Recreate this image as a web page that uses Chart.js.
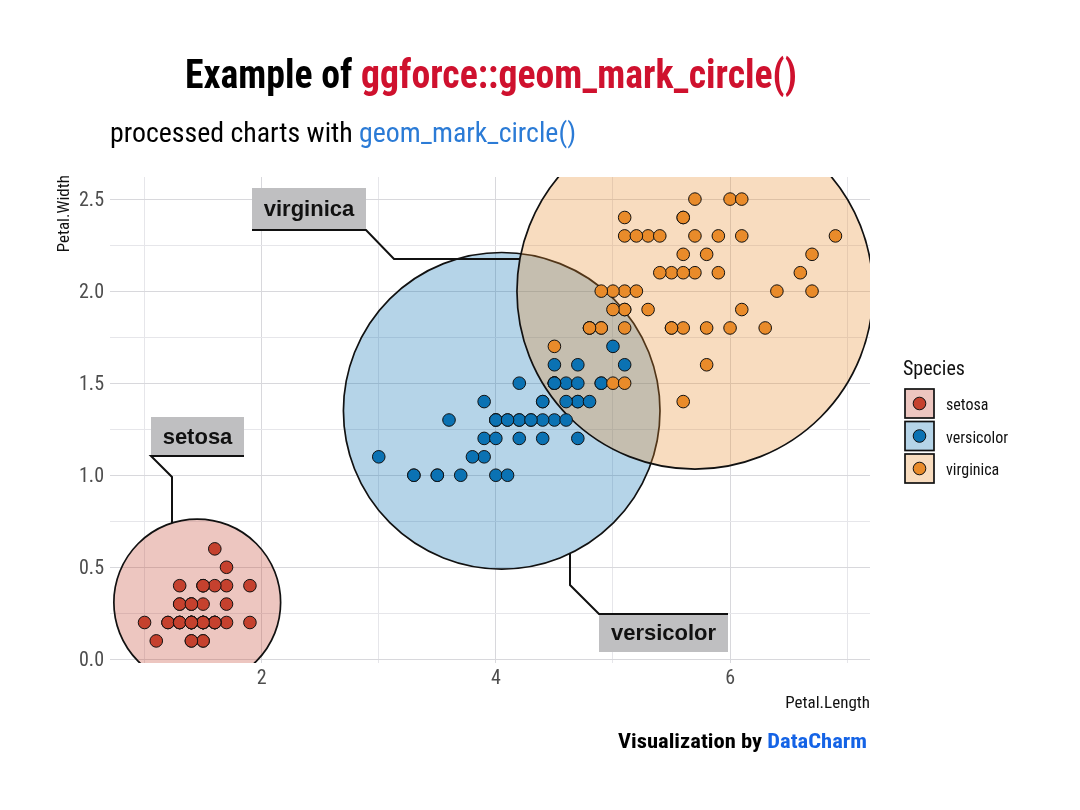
<!DOCTYPE html>
<html>
<head>
<meta charset="utf-8">
<script src="https://cdn.jsdelivr.net/npm/chart.js@4"></script>
<style>
  html, body { margin: 0; padding: 0; background: #fff; }
  #wrap { width: 1080px; height: 810px; }
</style>
</head>
<body>
<div id="wrap"><canvas id="chart" width="1080" height="810"></canvas></div>
<script>
// iris petal measurements (Petal.Length / Petal.Width), one pair per flower
const species = ['setosa', 'versicolor', 'virginica'];

const setosaLength = [1.4,1.4,1.3,1.5,1.4,1.7,1.4,1.5,1.4,1.5,1.5,1.6,1.4,1.1,1.2,1.5,1.3,1.4,1.7,1.5,1.7,1.5,1.0,1.7,1.9,1.6,1.6,1.5,1.4,1.6,1.6,1.5,1.5,1.4,1.5,1.2,1.3,1.4,1.3,1.5,1.3,1.3,1.3,1.6,1.9,1.4,1.6,1.4,1.5,1.4];
const setosaWidth = [0.2,0.2,0.2,0.2,0.2,0.4,0.3,0.2,0.2,0.1,0.2,0.2,0.1,0.1,0.2,0.4,0.4,0.3,0.3,0.3,0.2,0.4,0.2,0.5,0.2,0.2,0.4,0.2,0.2,0.2,0.2,0.4,0.1,0.2,0.2,0.2,0.2,0.1,0.2,0.2,0.3,0.3,0.2,0.6,0.4,0.3,0.2,0.2,0.2,0.2];

const versicolorLength = [4.7,4.5,4.9,4.0,4.6,4.5,4.7,3.3,4.6,3.9,3.5,4.2,4.0,4.7,3.6,4.4,4.5,4.1,4.5,3.9,4.8,4.0,4.9,4.7,4.3,4.4,4.8,5.0,4.5,3.5,3.8,3.7,3.9,5.1,4.5,4.5,4.7,4.4,4.1,4.0,4.4,4.6,4.0,3.3,4.2,4.2,4.2,4.3,3.0,4.1];
const versicolorWidth = [1.4,1.5,1.5,1.3,1.5,1.3,1.6,1.0,1.3,1.4,1.0,1.5,1.0,1.4,1.3,1.4,1.5,1.0,1.5,1.1,1.8,1.3,1.5,1.2,1.3,1.4,1.4,1.7,1.5,1.0,1.1,1.0,1.2,1.6,1.5,1.6,1.5,1.3,1.3,1.3,1.2,1.4,1.2,1.0,1.3,1.2,1.3,1.3,1.1,1.3];

const virginicaLength = [6.0,5.1,5.9,5.6,5.8,6.6,4.5,6.3,5.8,6.1,5.1,5.3,5.5,5.0,5.1,5.3,5.5,6.7,6.9,5.0,5.7,4.9,6.7,4.9,5.7,6.0,4.8,4.9,5.6,5.8,6.1,6.4,5.6,5.1,5.6,6.1,5.6,5.5,4.8,5.4,5.6,5.1,5.1,5.9,5.7,5.2,5.0,5.2,5.4,5.1];
const virginicaWidth = [2.5,1.9,2.1,1.8,2.2,2.1,1.7,1.8,1.8,2.5,2.0,1.9,2.1,2.0,2.4,2.3,1.8,2.2,2.3,1.5,2.3,2.0,2.0,1.8,2.1,1.8,1.8,1.8,2.1,1.6,1.9,2.0,2.2,1.5,1.4,2.3,2.4,1.8,1.8,2.1,2.4,2.3,1.9,2.3,2.5,2.3,1.9,2.0,2.3,1.8];

const xTicks = [1, 2, 3, 4, 5, 6, 7];
const yTicks = [0, 0.25, 0.5, 0.75, 1, 1.25, 1.5, 1.75, 2, 2.25, 2.5];

const lengths = [setosaLength, versicolorLength, virginicaLength];
const widths = [setosaWidth, versicolorWidth, virginicaWidth];

// colours
const pointColors = ['#c5412e', '#0b72b3', '#e98b2a'];
const markFills = ['rgba(197,65,46,0.3)', 'rgba(11,114,179,0.3)', 'rgba(233,139,42,0.3)'];
const FONT = '"Roboto Condensed", "Liberation Sans Narrow", Roboto, sans-serif';

// ggplot style 5% expansion of the data range
function expanded(arrs) {
    const all = [].concat(...arrs);
    const lo = Math.min(...all), hi = Math.max(...all);
    const pad = (hi - lo) * 0.05;
    return [lo - pad, hi + pad];
}
const [xMin, xMax] = expanded(lengths);
const [yMin, yMax] = expanded(widths);

// smallest circle around a set of pixel points
function circle2(a, b) {
    const x = (a.x + b.x) / 2, y = (a.y + b.y) / 2;
    return { x, y, r: Math.hypot(a.x - x, a.y - y) };
}
function circle3(a, b, c) {
    const d = 2 * (a.x * (b.y - c.y) + b.x * (c.y - a.y) + c.x * (a.y - b.y));
    if (Math.abs(d) < 1e-9) return circle2(a, c);
    const a2 = a.x * a.x + a.y * a.y, b2 = b.x * b.x + b.y * b.y, c2 = c.x * c.x + c.y * c.y;
    const x = (a2 * (b.y - c.y) + b2 * (c.y - a.y) + c2 * (a.y - b.y)) / d;
    const y = (a2 * (c.x - b.x) + b2 * (a.x - c.x) + c2 * (b.x - a.x)) / d;
    return { x, y, r: Math.hypot(a.x - x, a.y - y) };
}
const inside = (c, p) => Math.hypot(p.x - c.x, p.y - c.y) <= c.r + 1e-6;
function enclose(pts) {
    let c = null;
    for (let i = 0; i < pts.length; i++) {
        if (c && inside(c, pts[i])) continue;
        c = { x: pts[i].x, y: pts[i].y, r: 0 };
        for (let j = 0; j < i; j++) {
            if (inside(c, pts[j])) continue;
            c = circle2(pts[i], pts[j]);
            for (let k = 0; k < j; k++) {
                if (!inside(c, pts[k])) c = circle3(pts[i], pts[j], pts[k]);
            }
        }
    }
    return c;
}

const markExpand = 27; // px added around each enclosing circle

// label boxes, placed relative to their circle
// side: where the connector leaves the box
const labelSpecs = [
    { text: 'setosa', dx: -46, dy: -185, w: 93, h: 39, side: 'bottom-left' },
    { text: 'versicolor', dx: 97, dy: 203, w: 129, h: 38, side: 'top-left' },
    { text: 'virginica', dx: -443, dy: -103, w: 114, h: 42, side: 'bottom-right' }
];

const markCircles = {
    id: 'markCircles',
    beforeDatasetsDraw(chart) {
        const { ctx, chartArea, scales: { x, y } } = chart;
        chart.$circles = species.map((s, i) => {
            const pts = lengths[i].map((v, k) => ({ x: x.getPixelForValue(v), y: y.getPixelForValue(widths[i][k]) }));
            const c = enclose(pts);
            c.r += markExpand;
            return c;
        });
        ctx.save();
        ctx.beginPath();
        ctx.rect(chartArea.left, chartArea.top, chartArea.right - chartArea.left, chartArea.bottom - chartArea.top);
        ctx.clip();
        chart.$circles.forEach((c, i) => {
            ctx.beginPath();
            ctx.arc(c.x, c.y, c.r, 0, Math.PI * 2);
            ctx.fillStyle = markFills[i];
            ctx.fill();
            ctx.lineWidth = 1.7;
            ctx.strokeStyle = '#111';
            ctx.stroke();
        });
        ctx.restore();
    },
    afterDatasetsDraw(chart) {
        const ctx = chart.ctx;
        ctx.save();
        chart.$circles.forEach((c, i) => {
            const L = labelSpecs[i];
            const bx = Math.round(c.x + L.dx), by = Math.round(c.y + L.dy);
            ctx.fillStyle = '#bfbfc1';
            ctx.fillRect(bx, by, L.w, L.h);
            ctx.fillStyle = '#111';
            ctx.font = 'bold 22px "Liberation Sans", Arial, sans-serif';
            ctx.textAlign = 'center';
            ctx.textBaseline = 'middle';
            ctx.fillText(L.text, bx + L.w / 2, by + L.h / 2 + 1);

            // connector: edge of box, short diagonal, then straight to the circle
            let path;
            if (L.side === 'bottom-left') {
                const ex = bx + 21, ey = by + L.h + 21;
                const cy = c.y - Math.sqrt(c.r * c.r - (ex - c.x) * (ex - c.x));
                path = [[bx + L.w, by + L.h], [bx, by + L.h], [ex, ey], [ex, cy]];
            } else if (L.side === 'top-left') {
                const ex = bx - 29, ey = by - 29;
                const cy = c.y + Math.sqrt(c.r * c.r - (ex - c.x) * (ex - c.x));
                path = [[bx + L.w, by], [bx, by], [ex, ey], [ex, cy]];
            } else {
                const ex = bx + L.w + 28, ey = by + L.h + 29;
                const cx = c.x - Math.sqrt(c.r * c.r - (ey - c.y) * (ey - c.y));
                path = [[bx, by + L.h], [bx + L.w, by + L.h], [ex, ey], [cx, ey]];
            }
            ctx.beginPath();
            path.forEach((p, k) => k ? ctx.lineTo(p[0], p[1]) : ctx.moveTo(p[0], p[1]));
            ctx.lineWidth = 2;
            ctx.strokeStyle = '#111';
            ctx.stroke();
        });
        ctx.restore();
    }
};

// text made of coloured pieces, squeezed to a given width if asked
function richText(ctx, parts, x, y, font, align, fitWidth) {
    ctx.font = font;
    const ws = parts.map(p => ctx.measureText(p.t).width);
    const total = ws.reduce((a, b) => a + b, 0);
    const sx = fitWidth ? fitWidth / total : 1;
    const start = align === 'right' ? x - total * sx : align === 'center' ? x - total * sx / 2 : x;
    ctx.save();
    ctx.translate(start, y);
    ctx.scale(sx, 1);
    ctx.textAlign = 'left';
    ctx.textBaseline = 'alphabetic';
    let cx = 0;
    parts.forEach((p, i) => {
        ctx.fillStyle = p.c;
        ctx.fillText(p.t, cx, 0);
        cx += ws[i];
    });
    ctx.restore();
}

const decorations = {
    id: 'decorations',
    afterDraw(chart) {
        const ctx = chart.ctx;
        const area = chart.chartArea;
        richText(ctx, [{ t: 'Example of ', c: '#000' }, { t: 'ggforce::geom_mark_circle()', c: '#cf112e' }],
            185, 88, 'bold 40px ' + FONT, 'left', 612);
        richText(ctx, [{ t: 'processed charts with ', c: '#000' }, { t: 'geom_mark_circle()', c: '#2b7bd6' }],
            110, 142, '27px ' + FONT, 'left', 466);
        richText(ctx, [{ t: 'Visualization by ', c: '#000' }, { t: 'DataCharm', c: '#1463e6' }],
            867, 748, 'bold 21px ' + FONT, 'right', 249);

        // axis titles
        ctx.save();
        ctx.fillStyle = '#111';
        ctx.font = '17px ' + FONT;
        ctx.textAlign = 'right';
        ctx.textBaseline = 'alphabetic';
        ctx.fillText('Petal.Length', area.right, 708);
        ctx.translate(69, area.top - 2);
        ctx.rotate(-Math.PI / 2);
        ctx.fillText('Petal.Width', 0, 0);
        ctx.restore();

        // legend
        ctx.save();
        ctx.fillStyle = '#111';
        ctx.font = '20px ' + FONT;
        ctx.textAlign = 'left';
        ctx.textBaseline = 'alphabetic';
        ctx.fillText('Species', 903, 375);
        species.forEach((s, i) => {
            const top = 389 + i * 32.5;
            ctx.fillStyle = '#fff';
            ctx.fillRect(905, top, 29, 29);
            ctx.fillStyle = markFills[i];
            ctx.fillRect(905, top, 29, 29);
            ctx.lineWidth = 1.7;
            ctx.strokeStyle = '#111';
            ctx.strokeRect(905, top, 29, 29);
            ctx.beginPath();
            ctx.arc(919.5, top + 14.5, 6.3, 0, Math.PI * 2);
            ctx.fillStyle = pointColors[i];
            ctx.fill();
            ctx.lineWidth = 1;
            ctx.stroke();
            ctx.fillStyle = '#111';
            ctx.font = '16px ' + FONT;
            ctx.textBaseline = 'middle';
            ctx.fillText(s, 946, top + 17);
            ctx.textBaseline = 'alphabetic';
        });
        ctx.restore();
    }
};

const gridColor = major => major ? '#d8d8dc' : '#e6e6ea';

new Chart(document.getElementById('chart'), {
    type: 'scatter',
    data: {
        datasets: species.map((s, i) => ({
            label: s,
            data: lengths[i].map((v, k) => ({ x: v, y: widths[i][k] })),
            order: species.length - 1 - i, // later species drawn on top
            backgroundColor: pointColors[i],
            borderColor: '#111',
            borderWidth: 1,
            pointRadius: 6.3,
            pointHoverRadius: 6.3
        }))
    },
    options: {
        responsive: false,
        animation: false,
        devicePixelRatio: 1,
        layout: { padding: { top: 177, left: 0, right: 210, bottom: 107 } },
        plugins: { legend: { display: false }, tooltip: { enabled: false } },
        scales: {
            x: {
                type: 'linear',
                min: xMin,
                max: xMax,
                afterBuildTicks: s => { s.ticks = xTicks.map(v => ({ value: v })); },
                afterFit: s => { s.height = 40; },
                border: { display: false },
                grid: {
                    drawTicks: false,
                    color: c => gridColor(c.tick && c.tick.value % 2 === 0)
                },
                ticks: {
                    padding: 4,
                    color: '#4d4d4d',
                    font: { family: FONT, size: 20 },
                    callback: v => v % 2 === 0 ? String(v) : ''
                }
            },
            y: {
                type: 'linear',
                min: yMin,
                max: yMax,
                afterBuildTicks: s => { s.ticks = yTicks.map(v => ({ value: v })); },
                afterFit: s => { s.width = 110; },
                border: { display: false },
                grid: {
                    drawTicks: false,
                    color: c => gridColor(c.tick && Number.isInteger(c.tick.value * 2))
                },
                ticks: {
                    padding: 6,
                    labelOffset: 2,
                    color: '#4d4d4d',
                    font: { family: FONT, size: 20 },
                    callback: v => Number.isInteger(v * 2) ? v.toFixed(1) : ''
                }
            }
        }
    },
    plugins: [markCircles, decorations]
});
</script>
</body>
</html>
